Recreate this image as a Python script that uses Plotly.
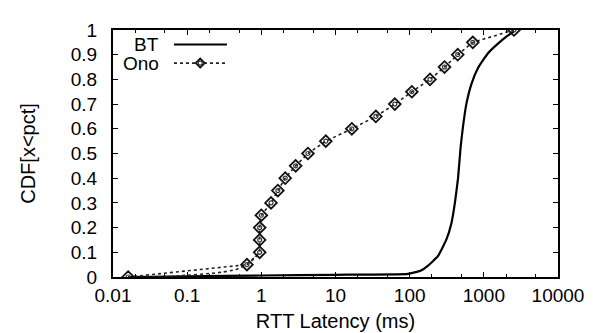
import plotly.graph_objects as go

# Ono CDF samples (markers every 0.05)
ono_x = [0.016, 0.64, 0.95, 0.95, 0.95, 1.0, 1.35, 1.67, 2.1, 2.9, 4.25, 7.4, 16.6, 35, 63, 107, 188, 295, 445, 710, 2550]
ono_y = [0.0, 0.05, 0.10, 0.15, 0.20, 0.25, 0.30, 0.35, 0.40, 0.45, 0.50, 0.55, 0.60, 0.65, 0.70, 0.75, 0.80, 0.85, 0.90, 0.95, 1.0]
# Ono dotted connecting curve in the low tail (between the first markers)
ono_line_x = [0.016, 0.03, 0.05, 0.1, 0.2, 0.3, 0.45, 0.64, 0.8, 0.95]
ono_line_y = [0.0, 0.0, 0.001, 0.007, 0.014, 0.02, 0.03, 0.05, 0.075, 0.10]

# BT CDF
bt_x = [0.016, 0.1, 1, 10, 95, 140, 177, 241, 312, 365, 405, 449, 488, 524, 581, 678, 834, 1137, 1552, 2118, 2550]
bt_y = [0.0, 0.003, 0.006, 0.009, 0.013, 0.025, 0.046, 0.085, 0.151, 0.217, 0.295, 0.40, 0.53, 0.61, 0.70, 0.78, 0.846, 0.906, 0.945, 0.978, 0.995]

x_ticks = [0.01, 0.1, 1, 10, 100, 1000, 10000]
x_labels = ["0.01", "0.1", "1", "10", "100", "1000", "10000"]
y_ticks = [0, 0.1, 0.2, 0.3, 0.4, 0.5, 0.6, 0.7, 0.8, 0.9, 1]
y_labels = ["0", "0.1", "0.2", "0.3", "0.4", "0.5", "0.6", "0.7", "0.8", "0.9", "1"]

FONT = "Liberation Sans, Arial, sans-serif"
TICK_SIZE = 19
TITLE_SIZE = 20
ONO_COLOR = "#222"

fig = go.Figure()
fig.add_trace(go.Scatter(x=bt_x, y=bt_y, mode="lines",
                         line=dict(color="black", width=2.2, shape="spline", smoothing=0.4),
                         name="BT", showlegend=False))
fig.add_trace(go.Scatter(x=ono_line_x, y=ono_line_y, mode="lines",
                         line=dict(color=ONO_COLOR, width=1.6, dash="dot", shape="spline", smoothing=0.5),
                         showlegend=False))
fig.add_trace(go.Scatter(x=ono_x, y=ono_y, mode="lines+markers",
                         line=dict(color=ONO_COLOR, width=1.6, dash="dot"),
                         marker=dict(symbol="diamond-open", size=9, color="#111", line=dict(width=1.8)),
                         name="Ono", showlegend=False))
fig.add_trace(go.Scatter(x=ono_x, y=ono_y, mode="markers",
                         marker=dict(symbol="circle-open", size=4, color="#333", line=dict(width=1.2)),
                         showlegend=False))

# manual gnuplot-style legend (text, then sample); paper coords are relative to the plot area
LEG_BT_Y = 0.941
LEG_ONO_Y = 0.866
TXT_X = 0.108
L0 = 0.137
L1 = 0.256
MK = 0.196
fig.add_annotation(xref="paper", yref="paper", x=TXT_X, y=LEG_BT_Y, text="BT", showarrow=False,
                   xanchor="right", yanchor="middle",
                   font=dict(family=FONT, size=TICK_SIZE, color="black"))
fig.add_annotation(xref="paper", yref="paper", x=TXT_X, y=LEG_ONO_Y, text="Ono", showarrow=False,
                   xanchor="right", yanchor="middle",
                   font=dict(family=FONT, size=TICK_SIZE, color="black"))
fig.add_shape(type="line", xref="paper", yref="paper", x0=L0, x1=L1, y0=LEG_BT_Y, y1=LEG_BT_Y,
              line=dict(color="black", width=2))
fig.add_shape(type="line", xref="paper", yref="paper", x0=L0, x1=L1, y0=LEG_ONO_Y, y1=LEG_ONO_Y,
              line=dict(color=ONO_COLOR, width=1.6, dash="dot"))
fig.add_shape(type="path", xref="paper", yref="paper", xsizemode="pixel", ysizemode="pixel",
              xanchor=MK, yanchor=LEG_ONO_Y, path="M 0 -4.5 L 4.5 0 L 0 4.5 L -4.5 0 Z",
              line=dict(color="#111", width=1.8), fillcolor="white")
fig.add_shape(type="circle", xref="paper", yref="paper", xsizemode="pixel", ysizemode="pixel",
              xanchor=MK, yanchor=LEG_ONO_Y, x0=-2, x1=2, y0=-2, y1=2,
              line=dict(color="#333", width=1.2))

fig.update_layout(
    width=593, height=333,
    margin=dict(l=105, r=43, t=18, b=61),
    paper_bgcolor="white", plot_bgcolor="white",
    font=dict(family=FONT, size=TICK_SIZE, color="black"),
    xaxis=dict(type="log", range=[-2, 4], tickvals=x_ticks, ticktext=x_labels,
               ticks="inside", ticklen=5, tickwidth=1, tickcolor="black",
               minor=dict(ticks="inside", ticklen=3, tickcolor="black", showgrid=False),
               showline=True, linecolor="black", linewidth=2, mirror="ticks",
               showgrid=False, zeroline=False, ticklabelstandoff=0,
               title=dict(text="RTT Latency (ms)", standoff=9, font=dict(size=TITLE_SIZE)),
               tickfont=dict(size=TICK_SIZE)),
    yaxis=dict(range=[0, 1], tickvals=y_ticks, ticktext=y_labels,
               ticks="inside", ticklen=5, tickwidth=1, tickcolor="black",
               showline=True, linecolor="black", linewidth=2, mirror="ticks",
               showgrid=False, zeroline=False, ticklabelstandoff=10,
               title=dict(text="CDF[x<pct]", standoff=30, font=dict(size=TITLE_SIZE)),
               tickfont=dict(size=TICK_SIZE)),
)

fig.write_html("out.html")
